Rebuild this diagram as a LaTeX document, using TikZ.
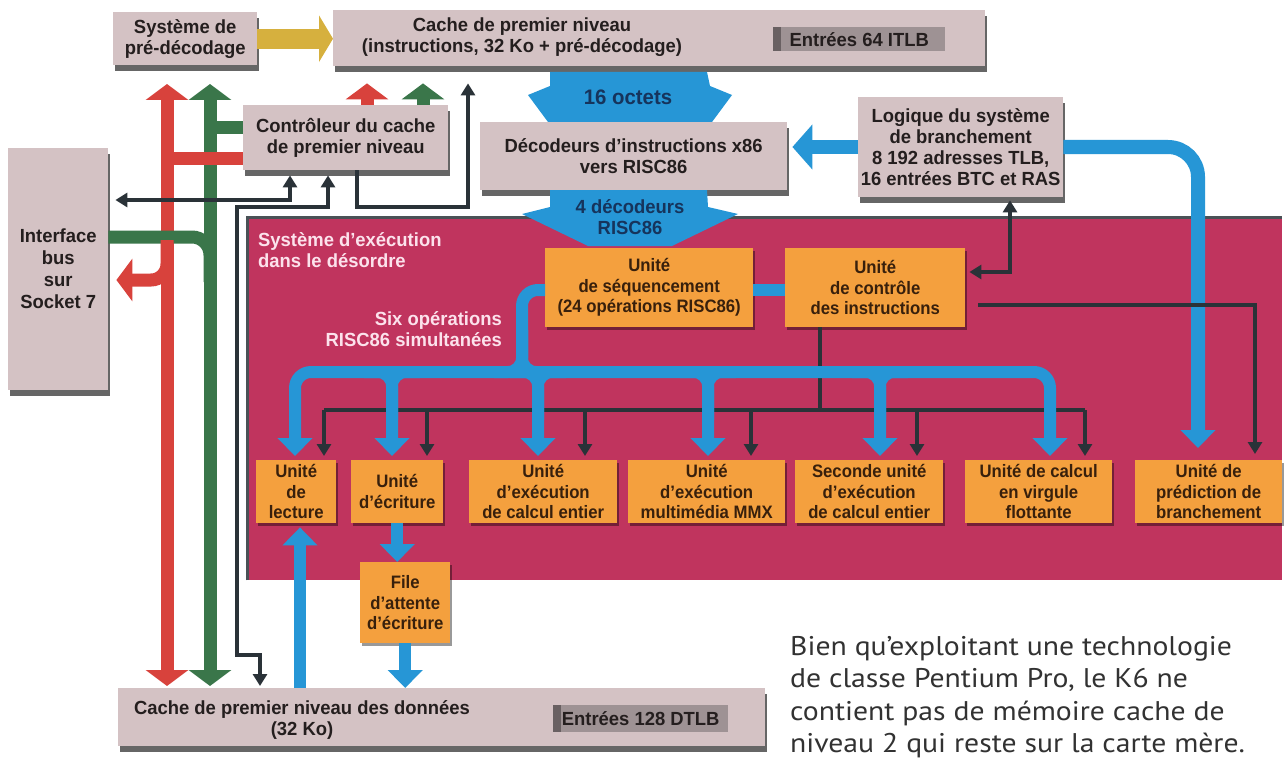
\documentclass[tikz,border=0pt]{standalone}
\usepackage{fontspec}
\setmainfont{Liberation Sans}
\newfontfamily\cond[FakeStretch=0.97]{Liberation Sans}
\newfontfamily\condo[FakeStretch=0.93]{Liberation Sans}
\newfontfamily\capt[FakeStretch=1.1]{PT Sans}
\usetikzlibrary{arrows.meta,shadows,calc}
\definecolor{boxgrey}{RGB}{212,194,196}
\definecolor{tlbgrey}{RGB}{158,146,148}
\definecolor{tlbdark}{RGB}{105,96,98}
\definecolor{magbg}{RGB}{192,52,94}
\definecolor{orbox}{RGB}{244,160,62}
\definecolor{bluel}{RGB}{38,150,214}
\definecolor{redl}{RGB}{216,66,60}
\definecolor{greenl}{RGB}{58,118,74}
\definecolor{darkl}{RGB}{42,50,56}
\definecolor{yell}{RGB}{214,176,62}
\definecolor{pinkt}{RGB}{252,226,236}
\definecolor{navyt}{RGB}{22,52,92}
\definecolor{txtd}{RGB}{36,30,30}
\definecolor{txto}{RGB}{56,32,12}
\definecolor{captc}{RGB}{50,50,50}
\tikzset{
  lbl/.style={font=\cond\bfseries\fontsize{19}{21}\selectfont, align=center, inner sep=0pt},
  olbl/.style={font=\condo\bfseries\fontsize{18}{20.5}\selectfont, align=center, inner sep=0pt},
  gbox/.style={lbl, fill=boxgrey, text=txtd, anchor=north west,
     drop shadow={shadow xshift=2pt,shadow yshift=-6pt,opacity=.6,fill=black}},
  obox/.style={olbl, fill=orbox, text=txto, anchor=north west,
     drop shadow={shadow xshift=2pt,shadow yshift=-3pt,opacity=.4,fill=black}},
  tlb/.style={lbl, fill=tlbgrey, text=txtd, anchor=north west,
     path picture={\fill[tlbdark] (path picture bounding box.north west) rectangle ([xshift=8pt]path picture bounding box.south west);}},
  rgtip/.tip={Triangle[width=42pt,length=16pt]},
  bftip/.tip={Triangle[width=44pt,length=20pt]},
  bbtip/.tip={Triangle[width=34pt,length=18pt]},
  dktip/.tip={Triangle[width=14pt,length=12pt]},
  yltip/.tip={Triangle[width=46pt,length=14pt]},
  redw/.style={draw=redl, line width=13pt},
  greenw/.style={draw=greenl, line width=13pt},
  darkw/.style={draw=darkl, line width=4.5pt},
  busw/.style={draw=bluel, line width=12pt},
  bluew/.style={draw=bluel, line width=14pt},
  bshape/.style={fill=bluel},
  btext/.style={lbl, text=navyt, font=\cond\bfseries\fontsize{21}{22}\selectfont},
}
\begin{document}
\begin{tikzpicture}[x=1pt,y=-1pt]
\useasboundingbox (0,0) rectangle (1287,765);
\fill[white] (0,0) rectangle (1287,765);

% execution region
\node[fill=magbg, minimum width=1035pt, minimum height=363pt, anchor=north west, inner sep=0pt] (exec) at (247,217) {};
\draw[darkl!85, line width=3pt] (exec.south west) -- (exec.north west) -- (exec.north east);

% grey boxes
\node[gbox, minimum width=144pt, minimum height=53pt] (pre) at (113,12) {Système de\\pré-décodage};
\node[gbox, minimum width=652pt, minimum height=56pt] (icache) at (333,10) {};
\node[lbl, text=txtd] (icachetxt) at (522,37) {Cache de premier niveau\\(instructions, 32 Ko + pré-décodage)};
\node[tlb, minimum width=172pt, minimum height=24pt] (itlb) at (773,27) {Entrées 64 ITLB};
\node[gbox, minimum width=205pt, minimum height=65pt] (ctrl) at (243,105) {Contrôleur du cache\\de premier niveau};
\node[gbox, minimum width=307pt, minimum height=68pt] (decod) at (480,122) {Décodeurs d’instructions x86\\vers RISC86};
\node[gbox, minimum width=205pt, minimum height=100pt] (logic) at (858,97) {Logique du système\\de branchement\\8 192 adresses TLB,\\16 entrées BTC et RAS};
\node[gbox, minimum width=100pt, minimum height=242pt, font=\cond\bfseries\fontsize{19}{22}\selectfont] (iface) at (8,148) {Interface\\bus\\sur\\Socket 7};
\node[gbox, minimum width=647pt, minimum height=58pt] (dcache) at (118,688) {};
\node[lbl, text=txtd] (dcachetxt) at (302,720) {Cache de premier niveau des données\\(32 Ko)};
\node[tlb, minimum width=175pt, minimum height=27pt] (dtlb) at (553,705) {Entrées 128 DTLB};

% orange boxes
\node[obox, minimum width=208pt, minimum height=79pt] (seq) at (545,248) {Unité\\de séquencement\\(24 opérations RISC86)};
\node[obox, minimum width=180pt, minimum height=79pt] (ctl) at (785,248) {Unité\\de contrôle\\des instructions};
\node[obox, minimum width=80pt, minimum height=63pt] (lect) at (256,460) {Unité\\de\\lecture};
\node[obox, minimum width=92pt, minimum height=63pt] (ecr) at (351,460) {Unité\\d’écriture};
\node[obox, minimum width=148pt, minimum height=63pt] (calc) at (469,460) {Unité\\d’exécution\\de calcul entier};
\node[obox, minimum width=157pt, minimum height=63pt] (mmx) at (628,460) {Unité\\d’exécution\\multimédia MMX};
\node[obox, minimum width=148pt, minimum height=63pt] (sec) at (795,460) {Seconde unité\\d’exécution\\de calcul entier};
\node[obox, minimum width=147pt, minimum height=63pt] (fpu) at (965,460) {Unité de calcul\\en virgule\\flottante};
\node[obox, minimum width=147pt, minimum height=63pt] (pred) at (1135,460) {Unité de\\prédiction de\\branchement};
\node[obox, minimum width=90pt, minimum height=81pt] (file) at (360,562) {File\\d’attente\\d’écriture};

% labels in execution region
\node[lbl, text=pinkt, align=left, anchor=north west] (exectitle) at (258,232) {Système d’exécution\\dans le désordre};
\node[lbl, text=pinkt, align=right, anchor=north east] (sixops) at (502,311) {Six opérations\\RISC86 simultanées};

% blue fat shapes
\fill[bshape] (550,72) -- (707,72) -- (710,86) -- (732,95) -- (712,122) -- (548,122) -- (528,95) -- (550,86) -- cycle;
\node[btext] (octets) at (628,97) {16 octets};
\fill[bshape] (550,190) -- (707,190) -- (708,207) -- (738,214) -- (672,246) -- (588,246) -- (522,214) -- (550,207) -- cycle;
\node[btext, font=\cond\bfseries\fontsize{19}{21}\selectfont] (decs) at (630,217) {4 décodeurs\\RISC86};

% yellow arrow
\draw[draw=yell, line width=20pt, -yltip] (pre.east) -- (pre.east -| icache.west);

% red and green buses
\coordinate (rTop) at (167,84);
\coordinate (rBot) at (167,686);
\coordinate (gTop) at (210,84);
\coordinate (gBot) at (210,686);
\draw[redw, rgtip-rgtip] (rBot) -- (rTop);
\draw[greenw, rgtip-rgtip] (gBot) -- (gTop);
\coordinate (r1) at (167,158);
\draw[redw] (r1) -- (r1 -| ctrl.west);
\coordinate (g1) at (210,128);
\draw[greenw] (g1) -- (g1 -| ctrl.west);
\coordinate (g2) at (210,237);
\draw[greenw, rounded corners=18pt] (g2 -| iface.east) -- (g2) -- ++(0,45);
\coordinate (r2) at (167,280);
\draw[redw, rounded corners=16pt, -rgtip, shorten >=8pt] ($(r2)+(0,-40)$) -- (r2) -- (r2 -| iface.east);
\coordinate (rc) at (367,105);
\coordinate (gc) at (423,105);
\draw[redw, -rgtip] (rc) -- ($(rc |- icache.south)+(0,17)$);
\draw[greenw, -rgtip] (gc) -- ($(gc |- icache.south)+(0,17)$);

% dark connectors on the left
\coordinate (dA) at (290,200);
\draw[darkw, dktip-dktip] ($(dA -| iface.east)+(7,0)$) -- (dA) -- ($(dA |- ctrl.south)+(0,5)$);
\coordinate (dB) at (328,207);
\draw[darkw, dktip-dktip] ($(dB |- ctrl.south)+(0,5)$) -- (dB) -- (237,207) -- (237,655) -- (260,655) -- (260,686);
\coordinate (dC) at (357,207);
\draw[darkw, -dktip] (dC |- ctrl.south) -- (dC) -- (468,207) -- ($(468,0 |- icache.south)+(0,17)$);

% blue: data cache <-> units
\coordinate (bl) at (300,688);
\draw[busw, -bbtip] (bl) -- ($(bl |- lect.south)+(0,4)$);
\draw[busw, -bbtip] (ecr.south) -- (ecr.south |- file.north);
\draw[busw, -bbtip] (file.south) -- (file.south |- dcache.north);

% branch logic connections
\coordinate (lg) at (858,147);
\draw[bluew, -bftip] (lg) -- ($(lg -| decod.east)+(5,0)$);
\coordinate (lgR) at (1198,147);
\draw[bluew, rounded corners=30pt, -bbtip] (lgR -| logic.east) -- (lgR) -- ($(lgR |- pred.north)+(0,-12)$);
\coordinate (lc) at (1010,272);
\draw[darkw, dktip-dktip] ($(lc |- logic.south)+(0,3)$) -- (lc) -- ($(lc -| ctl.east)+(4,0)$);
\coordinate (cR) at (978,305);
\draw[darkw, -dktip] (cR) -- (1255,305) -- ($(1255,0 |- pred.north)+(0,-6)$);

% black distribution bus
\draw[darkw] (ctl.south -| 820,0) -- (820,410);
\draw[darkw] (324,410) -- (1085,410);
\foreach \n/\kx in {lect/324, ecr/427, calc/585, mmx/751, sec/917, fpu/1085}{
  \draw[darkw, -dktip] (\kx,410) -- ($(\kx,0 |- \n.north)+(0,-4)$);
}

% blue distribution bus
\draw[busw, rounded corners=16pt] (seq.west |- 0,290) -- (522,290) -- (522,372);
\draw[busw] (seq.east |- 0,290) -- (ctl.west |- 0,290);
\draw[busw, rounded corners=14pt] (522,330) -- (522,372) -- (494,372);
\draw[busw, rounded corners=14pt] (522,330) -- (522,372) -- (550,372);
\draw[busw, rounded corners=16pt, -bbtip] (522,372) -- (295,372) -- ($(295,0 |- lect.north)+(0,-4)$);
\draw[busw, rounded corners=16pt, -bbtip] (522,372) -- (1050,372) -- ($(1050,0 |- fpu.north)+(0,-4)$);
\foreach \n/\bx in {ecr/392, calc/538, mmx/708, sec/880}{
  \draw[busw, rounded corners=14pt] (\bx-28,372) -- (\bx,372) -- (\bx,420);
  \draw[busw, rounded corners=14pt, -bbtip] (\bx+28,372) -- (\bx,372) -- ($(\bx,0 |- \n.north)+(0,-4)$);
}

% caption
\node[anchor=north west, align=left, font=\capt\fontsize{27}{32.5}\selectfont, text=captc, inner sep=0pt] (caption) at (790,636)
 {Bien qu’exploitant une technologie\\de classe Pentium Pro, le K6 ne\\contient pas de mémoire cache de\\niveau 2 qui reste sur la carte mère.};
\end{tikzpicture}
\end{document}
